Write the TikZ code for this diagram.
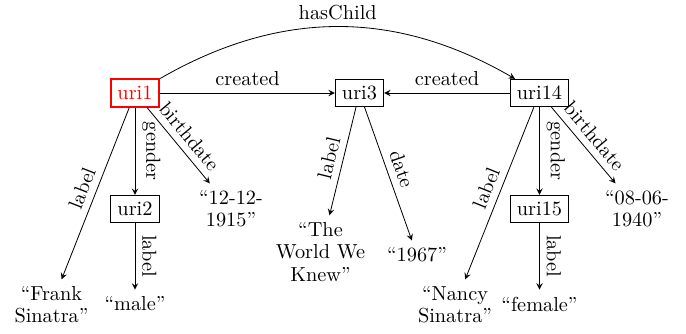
\documentclass[tikz,border=0pt]{standalone}
\usetikzlibrary{arrows}
\begin{document}
\begin{tikzpicture}[x=0.4926pt,y=-0.4926pt,>=stealth,
  res/.style={draw,line width=0.4pt},
  main/.style={draw=red,text=red,line width=1pt},
  lit/.style={text width=48pt,align=center,execute at begin node={\setlength{\baselineskip}{11pt}}},
  lab/.style={above,sloped},
  vlab/.style={rotate=-90,anchor=south},
  every edge/.style={draw,->}]
\useasboundingbox (0,0) rectangle (686,334);
\node[main] (uri1) at (135,93) {uri1};
\node[res] (uri3) at (359.5,93) {uri3};
\node[res] (uri14) at (539.5,93) {uri14};
\node[res] (uri2) at (135,209) {uri2};
\node[res] (uri15) at (539.5,209) {uri15};
\node[lit] (frank) at (51.5,305) {``Frank Sinatra''};
\node (male) at (135,304) {``male''};
\node[lit] (d1) at (231,209) {``12-12-1915''};
\node[lit] (world) at (320.5,252) {``The World We Knew''};
\node (y1967) at (417,255) {``1967''};
\node[lit] (nancy) at (455,305) {``Nancy Sinatra''};
\node (female) at (539.5,304) {``female''};
\node[lit] (d2) at (637,209) {``08-06-1940''};

\path (uri1) edge node[above] {created} (uri3)
      (uri14) edge node[above] {created} (uri3)
      (uri1) edge[bend left=30] node[above] {hasChild} (uri14)
      (uri1) edge node[lab] {label} (frank)
      (uri1) edge node[vlab] {gender} (uri2)
      (uri1) edge node[lab] {birthdate} (d1)
      (uri2) edge node[vlab] {label} (male)
      (uri3) edge node[lab] {label} (world)
      (uri3) edge node[lab] {date} (y1967)
      (uri14) edge node[lab] {label} (nancy)
      (uri14) edge node[vlab] {gender} (uri15)
      (uri14) edge node[lab] {birthdate} (d2)
      (uri15) edge node[vlab] {label} (female);
\end{tikzpicture}
\end{document}
